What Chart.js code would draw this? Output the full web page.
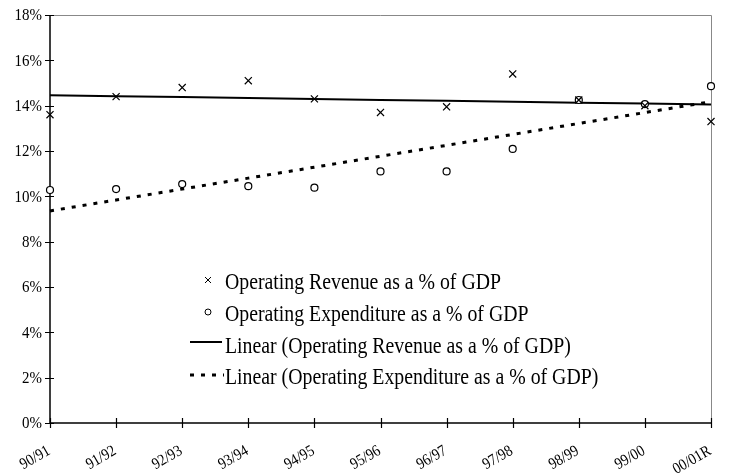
<!DOCTYPE html>
<html>
<head>
<meta charset="utf-8">
<script src="https://cdn.jsdelivr.net/npm/chart.js@4"></script>
<style>
  html, body { margin: 0; padding: 0; background: #fff; }
  #wrap { width: 732px; height: 475px; position: relative; }
</style>
</head>
<body>
<div id="wrap"><canvas id="c" width="732" height="475"></canvas></div>
<script>
// Financial years
const years = ['90/91', '91/92', '92/93', '93/94', '94/95', '95/96', '96/97', '97/98', '98/99', '99/00', '00/01R'];
// Operating revenue, % of GDP
const revenue = [13.6, 14.4, 14.8, 15.1, 14.3, 13.7, 13.95, 15.4, 14.25, 14.0, 13.3];
// Operating expenditure, % of GDP
const expenditure = [10.28, 10.32, 10.54, 10.45, 10.38, 11.1, 11.1, 12.09, 14.25, 14.07, 14.86];
// Y axis ticks (percent)
const yTicks = [0, 2, 4, 6, 8, 10, 12, 14, 16, 18];

const legendLabels = [
  'Operating Revenue as a % of GDP',
  'Operating Expenditure as a % of GDP',
  'Linear (Operating Revenue as a % of GDP)',
  'Linear (Operating Expenditure as a % of GDP)'
];

// Least-squares trend over the year index, like a spreadsheet "Linear" trendline
function linearTrend(values) {
  const n = values.length;
  let sx = 0, sy = 0, sxy = 0, sxx = 0;
  values.forEach((v, i) => { sx += i; sy += v; sxy += i * v; sxx += i * i; });
  const slope = (n * sxy - sx * sy) / (n * sxx - sx * sx);
  const icpt = (sy - slope * sx) / n;
  return values.map((_, i) => icpt + slope * i);
}

const FONT = "'Liberation Serif', 'Times New Roman', serif";
const SQUEEZE = 0.88; // narrow serif look

// draw text squeezed horizontally around its anchor
function narrowText(ctx, text, x, y, size, align, baseline, angle) {
  ctx.save();
  ctx.translate(x, y);
  if (angle) ctx.rotate(angle);
  ctx.scale(SQUEEZE, 1);
  ctx.font = size + 'px ' + FONT;
  ctx.textAlign = align;
  ctx.textBaseline = baseline;
  ctx.fillStyle = '#000';
  ctx.fillText(text, 0, 0);
  ctx.restore();
}

// Axis lines, crossing tick marks, tick labels and the grey frame on top/right
const axesPlugin = {
  id: 'axesFrame',
  beforeDatasetsDraw(chart) {
    const { ctx, chartArea: a, scales: { x, y } } = chart;
    ctx.save();
    ctx.strokeStyle = '#888';
    ctx.lineWidth = 1;
    ctx.beginPath();
    ctx.moveTo(a.left, a.top + 0.5);
    ctx.lineTo(a.right + 0.5, a.top + 0.5);
    ctx.lineTo(a.right + 0.5, a.bottom);
    ctx.stroke();

    ctx.strokeStyle = '#000';
    ctx.lineWidth = 1.5;
    ctx.beginPath();
    ctx.moveTo(a.left, a.top);
    ctx.lineTo(a.left, a.bottom);
    ctx.lineTo(a.right + 1, a.bottom);
    ctx.stroke();

    ctx.lineWidth = 1.2;
    ctx.beginPath();
    yTicks.forEach(v => {
      const py = Math.round(y.getPixelForValue(v)) + 0.5;
      ctx.moveTo(a.left - 5, py);
      ctx.lineTo(a.left + 4, py);
    });
    years.forEach((_, i) => {
      const px = Math.round(x.getPixelForValue(i)) + 0.5;
      ctx.moveTo(px, a.bottom - 5);
      ctx.lineTo(px, a.bottom + 5);
    });
    ctx.stroke();
    ctx.restore();

    yTicks.forEach(v => {
      narrowText(ctx, v + '%', a.left - 8, y.getPixelForValue(v) + 1, 17, 'right', 'middle', 0);
    });
    const ang = -30 * Math.PI / 180;
    years.forEach((lab, i) => {
      narrowText(ctx, lab, x.getPixelForValue(i) - 5, a.bottom + 20, 16, 'right', 'top', ang);
    });
  }
};

// Legend block inside the plot area
const legendPlugin = {
  id: 'innerLegend',
  afterDraw(chart) {
    const { ctx } = chart;
    const textX = 225, symX = 208;
    const baselines = [289, 321, 353, 384];
    const marks = [280, 312, 342, 375];
    baselines.forEach((by, i) => narrowText(ctx, legendLabels[i], textX, by, 22.5, 'left', 'alphabetic', 0));

    ctx.save();
    ctx.strokeStyle = '#000';
    // cross marker
    ctx.lineWidth = 1;
    ctx.beginPath();
    ctx.moveTo(symX - 3, marks[0] - 3); ctx.lineTo(symX + 3, marks[0] + 3);
    ctx.moveTo(symX + 3, marks[0] - 3); ctx.lineTo(symX - 3, marks[0] + 3);
    ctx.stroke();
    // circle marker
    ctx.beginPath();
    ctx.arc(symX, marks[1], 3, 0, Math.PI * 2);
    ctx.stroke();
    // solid trend sample
    ctx.lineWidth = 2;
    ctx.beginPath();
    ctx.moveTo(190, marks[2]); ctx.lineTo(222, marks[2]);
    ctx.stroke();
    // dotted trend sample
    ctx.lineWidth = 3;
    ctx.setLineDash([4, 7]);
    ctx.beginPath();
    ctx.moveTo(190, marks[3]); ctx.lineTo(224, marks[3]);
    ctx.stroke();
    ctx.restore();
  }
};

new Chart(document.getElementById('c'), {
  type: 'line',
  data: {
    labels: years,
    datasets: [
      {
        label: legendLabels[2],
        data: linearTrend(revenue),
        borderColor: '#000',
        borderWidth: 2,
        pointRadius: 0,
        fill: false,
        clip: false,
        order: 3
      },
      {
        label: legendLabels[3],
        data: linearTrend(expenditure),
        borderColor: '#000',
        borderWidth: 3,
        borderDash: [4, 7],
        pointRadius: 0,
        fill: false,
        clip: false,
        order: 4
      },
      {
        label: legendLabels[0],
        data: revenue,
        showLine: false,
        pointStyle: 'crossRot',
        pointRadius: 5,
        pointBorderWidth: 1.2,
        pointBorderColor: '#000',
        pointBackgroundColor: '#000',
        clip: false,
        order: 1
      },
      {
        label: legendLabels[1],
        data: expenditure,
        showLine: false,
        pointStyle: 'circle',
        pointRadius: 3.5,
        pointBorderWidth: 1.2,
        pointBorderColor: '#000',
        pointBackgroundColor: '#fff',
        clip: false,
        order: 2
      }
    ]
  },
  options: {
    responsive: false,
    animation: false,
    devicePixelRatio: 1,
    layout: { padding: { top: 15, right: 21, left: 0, bottom: 0 } },
    plugins: {
      legend: { display: false },
      tooltip: { enabled: false },
      title: { display: false }
    },
    scales: {
      x: {
        type: 'category',
        offset: false,
        grid: { display: false, drawTicks: false },
        border: { display: false },
        ticks: { display: false, autoSkip: false },
        afterFit(s) { s.height = 52; }
      },
      y: {
        min: 0,
        max: 18,
        grid: { display: false, drawTicks: false },
        border: { display: false },
        ticks: { display: false, stepSize: 2 },
        afterFit(s) { s.width = 50; }
      }
    }
  },
  plugins: [axesPlugin, legendPlugin]
});
</script>
</body>
</html>
